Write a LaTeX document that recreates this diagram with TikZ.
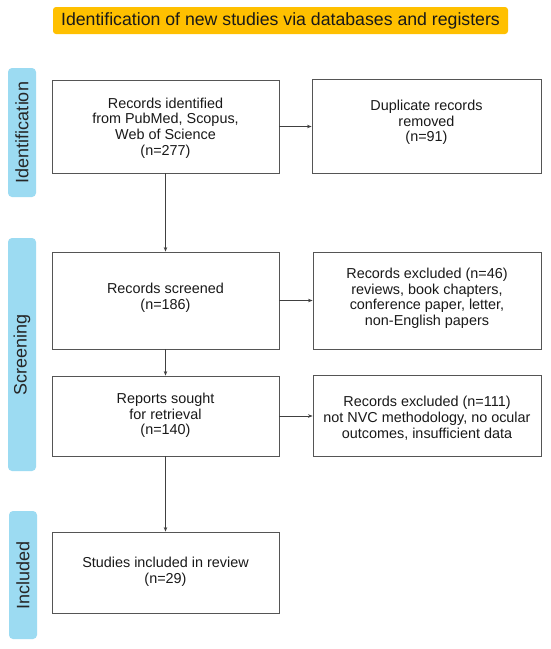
\documentclass[tikz,border=0pt]{standalone}
\usepackage{fontspec}
\setmainfont{Liberation Sans}
\usetikzlibrary{arrows.meta}
\definecolor{titleorange}{RGB}{255,192,0}
\definecolor{sideblue}{RGB}{156,219,242}
\definecolor{boxline}{RGB}{85,85,85}
\newcommand{\shiftedtext}[2]{\raisebox{#1}[\height][\depth]{\begin{tabular}{@{}c@{}}#2\end{tabular}}}
\begin{document}
\begin{tikzpicture}[x=1pt,y=-1pt,
  flowbox/.style={draw=boxline,line width=0.9pt,fill=white,rectangle,inner sep=0pt,
    align=center,font={\fontsize{14.4}{15.7}\selectfont},text=black!90},
  sidebar/.style={fill=sideblue,rounded corners=4pt,rectangle,inner sep=0pt,
    font={\fontsize{18}{20}\selectfont},text=black!85},
  conn/.style={draw=black!75,line width=0.7pt,-{Stealth[length=4.5pt,width=3.5pt]}}]
\useasboundingbox[fill=white] (0,0) rectangle (550,649);
% title
\node[fill=titleorange,rounded corners=3pt,minimum width=455pt,minimum height=27pt,inner sep=0pt,
  font={\fontsize{17.7}{20}\selectfont},text=black!90] (title) at (280.5,20.5)
  {Identification of new studies via databases and registers};
% sidebars
\node[sidebar,minimum width=129pt,minimum height=28pt,rotate=90] (sid) at (22,132.5) {Identification};
\node[sidebar,minimum width=233pt,minimum height=28pt,rotate=90] (sscr) at (22,354.5) {Screening};
\node[sidebar,minimum width=128pt,minimum height=28pt,rotate=90] (sinc) at (23,575) {Included};
% boxes
\node[flowbox,minimum width=227pt,minimum height=93pt] (ident) at (165.5,126.5)
  {\shiftedtext{-2pt}{Records identified\\from PubMed, Scopus,\\Web of Science\\(n=277)}};
\node[flowbox,minimum width=229pt,minimum height=94pt] (dup) at (426.5,126)
  {\shiftedtext{3pt}{Duplicate records\\removed\\(n=91)}};
\node[flowbox,minimum width=227pt,minimum height=97pt] (scr) at (165.5,300.5)
  {\shiftedtext{2pt}{Records screened\\(n=186)}};
\node[flowbox,minimum width=228pt,minimum height=97pt] (exc1) at (427,300.5)
  {\shiftedtext{1.5pt}{Records excluded (n=46)\\reviews, book chapters,\\conference paper, letter,\\non-English papers}};
\node[flowbox,minimum width=227pt,minimum height=80pt] (rep) at (165.5,416)
  {\shiftedtext{0pt}{Reports sought\\for retrieval\\(n=140)}};
\node[flowbox,minimum width=228pt,minimum height=81pt] (exc2) at (427,415.5)
  {\shiftedtext{-4pt}{Records excluded (n=111)\\not NVC methodology, no ocular\\outcomes, insufficient data}};
\node[flowbox,minimum width=227pt,minimum height=81pt] (stud) at (165.5,572.5)
  {\shiftedtext{0pt}{Studies included in review\\(n=29)}};
% connectors
\draw[conn] (ident.south) -- (scr.north);
\draw[conn] (scr.south) -- (rep.north);
\draw[conn] (rep.south) -- (stud.north);
\draw[conn] (ident.east) -- (dup.west |- ident.east);
\draw[conn] (scr.east) -- (exc1.west |- scr.east);
\draw[conn] (rep.east) -- (exc2.west |- rep.east);
\end{tikzpicture}
\end{document}
